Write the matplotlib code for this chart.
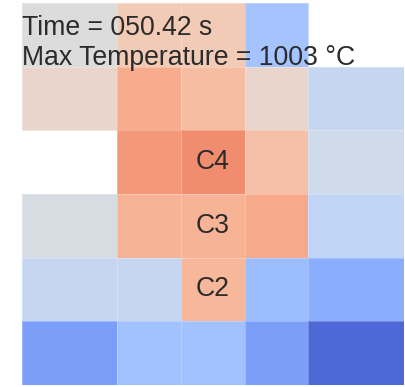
import numpy as np
import matplotlib
matplotlib.use('Agg')
import matplotlib.pyplot as plt

# cell values (normalised temperature, 0 = cold, 1 = hot), rows from top to bottom
row1 = [0.50, 0.60, 0.60, 0.32, np.nan]
row2 = [0.55, 0.70, 0.65, 0.55, 0.42]
row3 = [np.nan, 0.75, 0.78, 0.64, 0.45]
row4 = [0.48, 0.68, 0.68, 0.71, 0.40]
row5 = [0.42, 0.42, 0.67, 0.29, 0.245]
row6 = [0.20, 0.31, 0.31, 0.20, 0.065]

x_edges = [0, 1.5, 2.5, 3.5, 4.5, 6]
y_edges = [0, 1, 2, 3, 4, 5, 6]

sensor_names = ['C4', 'C3', 'C2']
sensor_rows = [2, 3, 4]
sensor_col = 2

time_s = 50.42
max_temp = 1003

grid = np.ma.masked_invalid(np.array([row1, row2, row3, row4, row5, row6]))

fig = plt.figure(figsize=(4.06, 3.87), dpi=100)
ax = fig.add_axes([22/406, 2/387, 382/406, 382/387])
ax.pcolormesh(x_edges, y_edges, grid, cmap='coolwarm', vmin=0, vmax=1,
              edgecolors=(1, 1, 1, 0.25), linewidth=0.5)
ax.set_xlim(0, 6)
ax.set_ylim(6, 0)
ax.axis('off')

fs = 19.2
xc = (x_edges[sensor_col] + x_edges[sensor_col + 1]) / 2
for name, r in zip(sensor_names, sensor_rows):
    ax.text(xc, r + 0.5, name, ha='center', va='center', fontsize=fs,
            family='Liberation Sans', color='#2b2b2b')

fig.text(22.5/406, 1 - 65/387, 'Time = %06.2f s\nMax Temperature = %d °C' % (time_s, max_temp),
         ha='left', va='baseline', fontsize=fs, family='Liberation Sans',
         color='#2b2b2b', linespacing=1.22)

fig.savefig('out.png', dpi=100)
